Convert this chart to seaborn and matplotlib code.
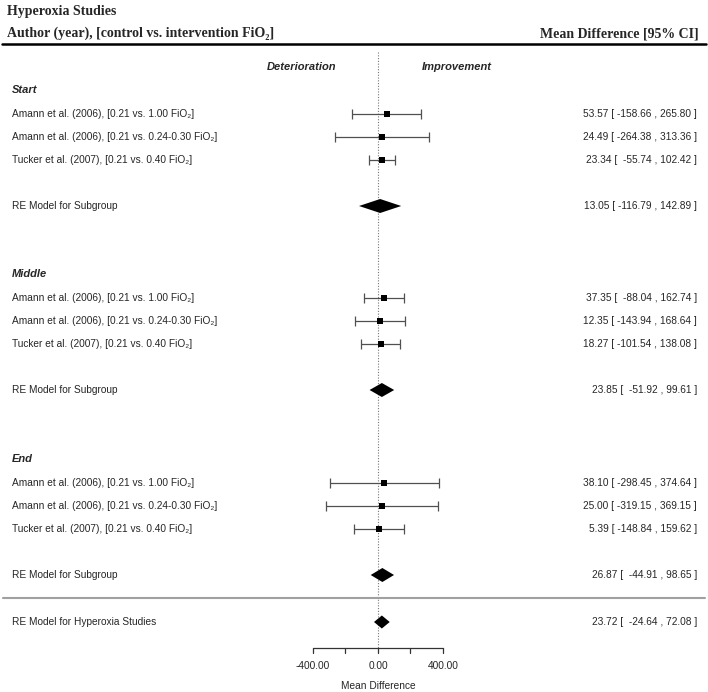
import matplotlib
matplotlib.use("Agg")
import matplotlib.pyplot as plt
import matplotlib.transforms as mtransforms
import pandas as pd
import seaborn as sns

# data
groups = ["Start", "Middle", "End"]
studies = ["Amann et al. (2006), [0.21 vs. 1.00 FiO\u2082]",
           "Amann et al. (2006), [0.21 vs. 0.24-0.30 FiO\u2082]",
           "Tucker et al. (2007), [0.21 vs. 0.40 FiO\u2082]"]
start_est = [53.57, 24.49, 23.34]
start_lo = [-158.66, -264.38, -55.74]
start_hi = [265.80, 313.36, 102.42]
middle_est = [37.35, 12.35, 18.27]
middle_lo = [-88.04, -143.94, -101.54]
middle_hi = [162.74, 168.64, 138.08]
end_est = [38.10, 25.00, 5.39]
end_lo = [-298.45, -319.15, -148.84]
end_hi = [374.64, 369.15, 159.62]
sub_est = [13.05, 23.85, 26.87]
sub_lo = [-116.79, -51.92, -44.91]
sub_hi = [142.89, 99.61, 98.65]
overall_est = 23.72
overall_lo = -24.64
overall_hi = 72.08
xticks = [-400, -200, 0, 200, 400]
xtick_labels = ["-400.00", "", "0.00", "", "400.00"]

sns.set_theme(style="white")
plt.rcParams['font.family'] = ['Liberation Sans', 'DejaVu Sans']
SERIF = ['Liberation Serif', 'DejaVu Serif']

W, H = 708, 692
fig = plt.figure(figsize=(W / 100, H / 100), dpi=100)
ax = fig.add_axes([0, 0, 1, 1])
ax.set_axis_off()

# x: zero at pixel 378, 400 units = 65 px ; y in pixel rows
zero_px, scale = 378, 65 / 400
tr = mtransforms.blended_transform_factory(ax.transAxes, ax.transData)

def fx(p):
    return p / W

def ci_text(e, lo, hi):
    return f"{e:.2f} [{lo:8.2f} , {hi:.2f} ]"

# build table of studies
est_all = [start_est, middle_est, end_est]
lo_all = [start_lo, middle_lo, end_lo]
hi_all = [start_hi, middle_hi, end_hi]
group_tops = [90, 274, 459]
rows = []
for g, top, es, ls, hs in zip(groups, group_tops, est_all, lo_all, hi_all):
    for i, (s, e, lo, hi) in enumerate(zip(studies, es, ls, hs)):
        rows.append(dict(group=g, study=s, est=e, lo=lo, hi=hi, y=top + 24 + 23 * i))
df = pd.DataFrame(rows)

fs = 7.3
# titles
ax.text(fx(7), 12, "Hyperoxia Studies", transform=tr, family=SERIF, weight="bold",
        fontsize=10, va="center", ha="left")
ax.text(fx(7), 33.5, "Author (year), [control vs. intervention FiO\u2082]", transform=tr,
        family=SERIF, weight="bold", fontsize=10, va="center", ha="left")
ax.text(fx(699), 33.5, "Mean Difference [95% CI]", transform=tr, family=SERIF,
        weight="bold", fontsize=10, va="center", ha="right")
ax.plot([fx(2), fx(706)], [44, 44], transform=tr, color="black", lw=1.8)

ax.text(fx(302), 67, "Deterioration", transform=tr, weight="bold", style="italic",
        fontsize=8, ha="center", va="center")
ax.text(fx(457), 67, "Improvement", transform=tr, weight="bold", style="italic",
        fontsize=8, ha="center", va="center")

# zero reference line
ax.plot([0, 0], [52, 648], color="#777777", lw=0.8, ls=(0, (1, 1.5)))

# study CIs and points
ax.errorbar(df["est"], df["y"], xerr=[df["est"] - df["lo"], df["hi"] - df["est"]],
            fmt="none", ecolor="#505050", elinewidth=0.9, capsize=3.6, capthick=0.9)
sns.scatterplot(data=df, x="est", y="y", marker="s", color="black", s=20,
                edgecolor="black", linewidth=0, ax=ax, legend=False, zorder=3)

for _, r in df.iterrows():
    ax.text(fx(12), r["y"], r["study"], transform=tr, fontsize=fs, va="center", ha="left")
    ax.text(fx(697), r["y"], ci_text(r["est"], r["lo"], r["hi"]), transform=tr,
            fontsize=fs, va="center", ha="right")

def diamond(e, lo, hi, y, h=7):
    ax.fill([lo, e, hi, e], [y, y - h, y, y + h], color="black", zorder=3, lw=0)

for g, top, e, lo, hi in zip(groups, group_tops, sub_est, sub_lo, sub_hi):
    ax.text(fx(12), top, g, transform=tr, weight="bold", style="italic", fontsize=8,
            va="center", ha="left")
    y = top + 116
    diamond(e, lo, hi, y)
    ax.text(fx(12), y, "RE Model for Subgroup", transform=tr, fontsize=fs, va="center")
    ax.text(fx(697), y, ci_text(e, lo, hi), transform=tr, fontsize=fs, va="center", ha="right")

ax.plot([fx(3), fx(705)], [598, 598], transform=tr, color="#a0a0a0", lw=1.5)

diamond(overall_est, overall_lo, overall_hi, 622, h=6.5)
ax.text(fx(12), 622, "RE Model for Hyperoxia Studies", transform=tr, fontsize=fs, va="center")
ax.text(fx(697), 622, ci_text(overall_est, overall_lo, overall_hi), transform=tr,
        fontsize=fs, va="center", ha="right")

# hand-drawn x axis
ax.plot([xticks[0], xticks[-1]], [648, 648], color="#333333", lw=0.9)
for t, lab in zip(xticks, xtick_labels):
    ax.plot([t, t], [648, 653], color="#333333", lw=0.9)
    if lab:
        ax.text(t, 666, lab, fontsize=fs, ha="center", va="center")
ax.text(0, 686, "Mean Difference", fontsize=fs, ha="center", va="center")

ax.set_xlim(-zero_px / scale, (W - zero_px) / scale)
ax.set_ylim(H, 0)
ax.set_axis_off()

fig.savefig("out.png", dpi=100)
